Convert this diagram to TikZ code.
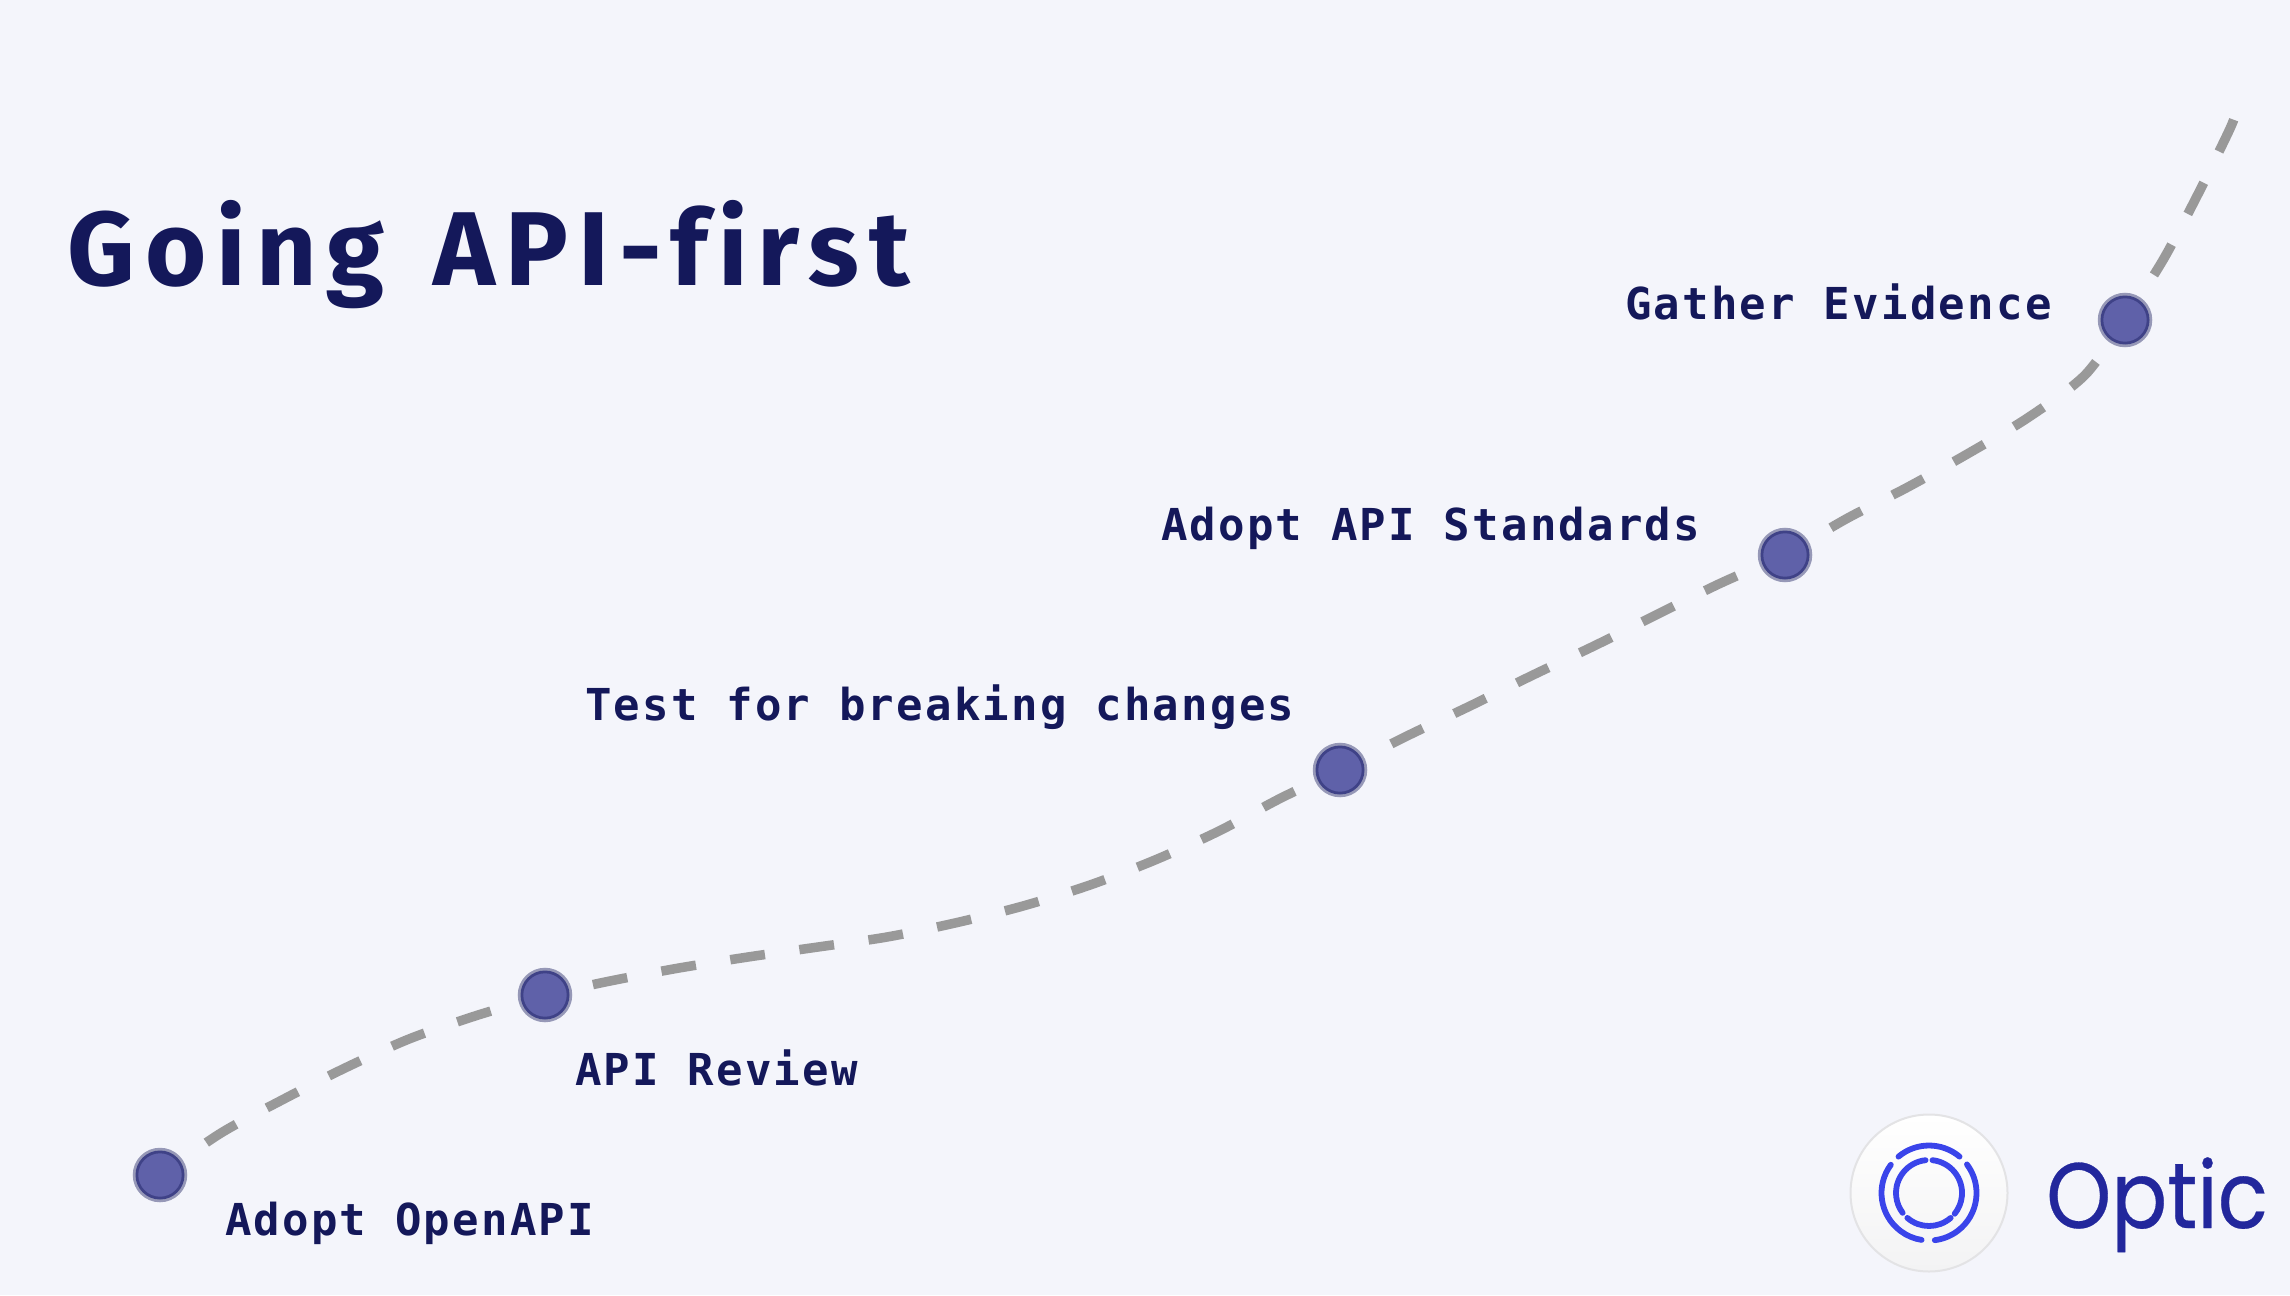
\documentclass[tikz,border=0pt]{standalone}
\usepackage{fontspec}
\usetikzlibrary{backgrounds}
\newfontfamily\titlefont[LetterSpace=9.6,WordSpace=1.4,Ligatures=NoCommon]{Fira Sans}
\newfontfamily\labelfont[LetterSpace=5.1]{DejaVu Sans Mono}
\newfontfamily\brandfont[FakeStretch=0.89,FakeBold=0.3]{Poppins}
\definecolor{bgcol}{HTML}{F4F5FB}
\definecolor{navy}{HTML}{14185A}
\definecolor{dotfill}{HTML}{5F61A9}
\definecolor{routecol}{HTML}{999999}
\definecolor{ringcol}{HTML}{3A44EA}
\definecolor{brandcol}{HTML}{22279C}
\definecolor{logoedge}{HTML}{E3E3E5}
\definecolor{logolow}{HTML}{F3F3F4}
\tikzset{
  stage/.style={circle,fill=dotfill,draw=navy,draw opacity=.42,line width=5.5pt,inner sep=0pt,outer sep=0pt,minimum size=49pt},
  steplabel/.style={anchor=base west,inner sep=0pt,outer sep=0pt,text=navy,font=\labelfont\bfseries\fontsize{44}{54}\selectfont},
  route/.style={draw=routecol,line width=9.5pt,dash pattern=on 35pt off 34.8pt,dash phase=#1},
  logoring/.style={draw=ringcol,line width=5.8pt,line cap=round},
}
\begin{document}
\begin{tikzpicture}[x=1pt,y=-1pt]
\useasboundingbox (0,0) rectangle (2290,1295);
\node[anchor=base west,inner sep=0pt,text=navy,font=\titlefont\bfseries\fontsize{105}{120}\selectfont] (title) at (67,285) {Going API-first};
\node[stage] (n1) at (160,1175) {};
\node[stage] (n2) at (545,995) {};
\node[stage] (n3) at (1340,770) {};
\node[stage] (n4) at (1785,555) {};
\node[stage] (n5) at (2125,320) {};
\coordinate (tail) at (2234,119);
\node[steplabel] (l1) at (225,1235) {Adopt OpenAPI};
\node[steplabel] (l2) at (575,1085) {API Review};
\node[steplabel] (l3) at (585,720) {Test for breaking changes};
\node[steplabel] (l4) at (1161,540) {Adopt API Standards};
\node[steplabel] (l5) at (1625,319) {Gather Evidence};
\begin{scope}[on background layer]
\fill[bgcol] (0,0) rectangle (2290,1295);
\draw[route=13.25pt] plot[smooth,tension=.5] coordinates {(n1) (221,1133) (282,1100) (345,1068) (409,1039) (475,1016) (n2)};
\draw[route=20.75pt] plot[smooth,tension=.5] coordinates {(n2) (610,981) (679,968) (748,957) (818,947) (887,937) (955,923) (1023,906) (1090,885) (1155,860) (1219,831) (1281,798) (n3)};
\draw[route=12.15pt] plot[smooth,tension=.5] coordinates {(n3) (1407,736) (1470,706) (1533,675) (1596,645) (1658,614) (1721,583) (n4)};
\draw[route=16.45pt] plot[smooth,tension=.5] coordinates {(n4) (1846,519) (1908,487) (1969,453) (2029,417) (2085,375) (n5)};
\draw[route=16.25pt] plot[smooth,tension=.5] coordinates {(n5) (2163,260) (2196,198) (2227,135) (tail)};
\end{scope}
\node[circle,inner sep=0pt,outer sep=0pt,minimum size=157pt,top color=white,bottom color=logolow,draw=logoedge,line width=2pt] (logo) at (1929,1193) {};
\begin{scope}[shift={(logo.center)},y=1pt]
\draw[logoring] (50:47.5) arc[start angle=50,end angle=130,radius=47.5];
\draw[logoring] (37:47.5) arc[start angle=37,end angle=-83,radius=47.5];
\draw[logoring] (143.5:47.5) arc[start angle=143.5,end angle=261,radius=47.5];
\draw[logoring] (96:33) arc[start angle=96,end angle=217,radius=33];
\draw[logoring] (84:33) arc[start angle=84,end angle=-39,radius=33];
\draw[logoring] (229:33) arc[start angle=229,end angle=311,radius=33];
\end{scope}
\node[anchor=base west,inner sep=0pt,text=brandcol,font=\brandfont\fontsize{93}{110}\selectfont] (brand) at (2046,1228) {Optic};
\end{tikzpicture}
\end{document}
